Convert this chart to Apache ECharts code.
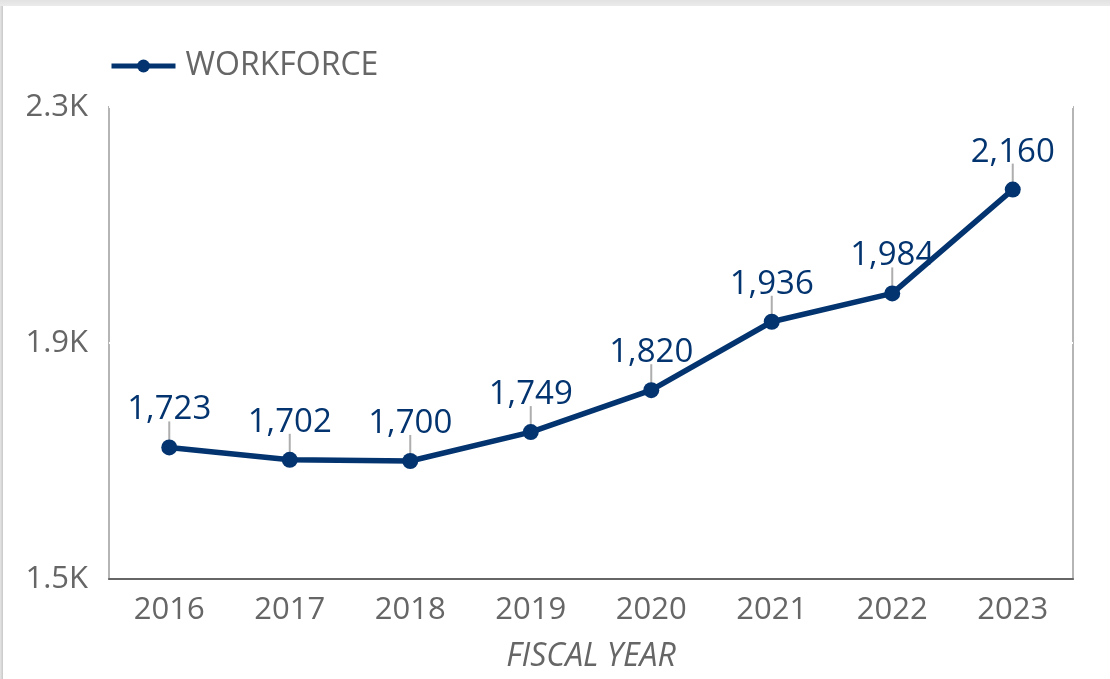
<!DOCTYPE html>
<html>
<head>
<meta charset="utf-8">
<script src="https://cdn.jsdelivr.net/npm/echarts@6/dist/echarts.min.js"></script>
<style>
  html, body { margin: 0; padding: 0; background: #fff; }
  .frame-top { position: absolute; left: 0; top: 0; width: 1110px; height: 6px; background: linear-gradient(#e2e2e2, #ebebeb); }
  .frame-left { position: absolute; left: 0; top: 6px; width: 3px; height: 673px; background: linear-gradient(90deg, #e6e6e6, #c8c8c8); }
  #chart { position: absolute; left: 0; top: 0; width: 1110px; height: 679px; }
</style>
</head>
<body>
<div class="frame-top"></div>
<div class="frame-left"></div>
<div id="chart"></div>
<script>
// workforce headcount by fiscal year
const fiscalYears = ['2016', '2017', '2018', '2019', '2020', '2021', '2022', '2023']
const workforce = [1723, 1702, 1700, 1749, 1820, 1936, 1984, 2160]
const yMin = 1500
const yMax = 2300
const yStep = 400

const navy = '#03346f'
const grey = '#666666'

const chart = echarts.init(document.getElementById('chart'))

chart.setOption({
  backgroundColor: 'transparent',
  animation: false,
  textStyle: { fontFamily: '"Open Sans", "Noto Sans", sans-serif' },
  legend: {
    left: 109,
    top: 50,
    padding: 0,
    itemWidth: 64,
    itemHeight: 16,
    data: ['WORKFORCE'],
    lineStyle: { width: 5 },
    textStyle: { color: grey, fontSize: 32, padding: [0, 0, 0, 5] }
  },
  grid: {
    left: 109,
    right: 37,
    top: 107,
    bottom: 100,
    outerBoundsMode: 'none',
    show: true,
    borderColor: '#b5b5b5',
    borderWidth: 2
  },
  xAxis: {
    type: 'category',
    data: fiscalYears,
    boundaryGap: true,
    name: 'FISCAL YEAR',
    nameLocation: 'middle',
    nameGap: 62,
    nameTextStyle: { color: grey, fontSize: 32, fontStyle: 'italic' },
    axisLine: { lineStyle: { color: '#666', width: 2 } },
    axisTick: { show: false },
    axisLabel: { color: grey, fontSize: 31, margin: 16 }
  },
  yAxis: {
    type: 'value',
    min: yMin,
    max: yMax,
    interval: yStep,
    axisLine: { show: false },
    axisTick: { show: false },
    splitLine: { lineStyle: { color: '#ffffff', width: 2 } },
    axisLabel: {
      color: grey,
      fontSize: 31,
      margin: 21,
      formatter: (v) => (v / 1000).toFixed(1) + 'K'
    }
  },
  series: [
    {
      // short grey stems between the points and their labels
      name: 'stem',
      type: 'scatter',
      data: workforce,
      symbol: 'rect',
      symbolSize: [2, 26],
      symbolOffset: [0, -13],
      itemStyle: { color: '#9a9a9a' },
      silent: true,
      z: 1
    },
    {
      name: 'WORKFORCE',
      type: 'line',
      data: workforce,
      symbol: 'circle',
      symbolSize: 16,
      lineStyle: { color: navy, width: 5.5 },
      itemStyle: { color: navy },
      z: 3,
      label: {
        show: true,
        position: 'top',
        distance: 13,
        color: navy,
        fontSize: 33,
        formatter: (p) => Number(p.value).toLocaleString('en-US')
      }
    }
  ]
})
</script>
</body>
</html>
